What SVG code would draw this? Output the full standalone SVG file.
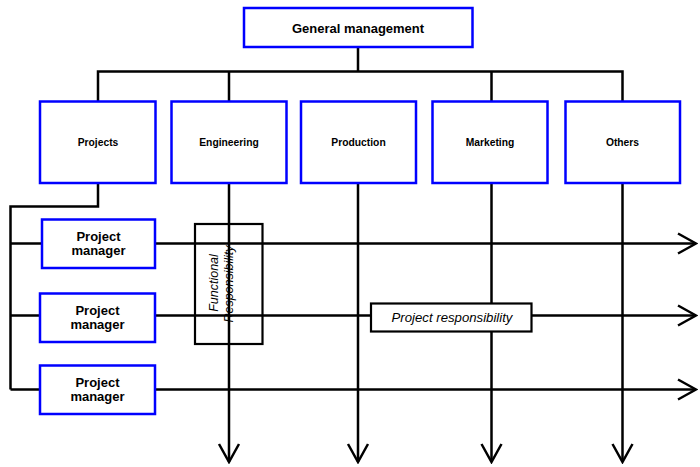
<svg xmlns="http://www.w3.org/2000/svg" width="700" height="467" viewBox="0 0 700 467">
<defs>
<style>
.box{fill:#fff;stroke:#0000ff;stroke-width:2.5}
.ln{fill:none;stroke:#000;stroke-width:2.5}
.lbl{font-family:"Liberation Sans",Arial,sans-serif;font-weight:bold;fill:#000;text-anchor:middle}
.it{font-family:"Liberation Sans",Arial,sans-serif;font-style:italic;fill:#000;text-anchor:middle}
</style>
<marker id="ah" viewBox="-20 -12 22 24" markerWidth="22" markerHeight="24" refX="0" refY="0" markerUnits="userSpaceOnUse" orient="auto">
<path d="M-18,-10 L0,0 L-18,10" fill="none" stroke="#000" stroke-width="2.5"/>
</marker>
</defs>
<g id="connectors">
<path class="ln" d="M358,47 V71.5 M98,101 V71.5 H622.5 V101 M229,71.5 V101 M491.5,71.5 V101"/>
<path class="ln" d="M98,183 V206.5 H10.5 V389.5 M10.5,243.5 H42 M10.5,315.5 H40 M10.5,389.5 H40"/>
<line class="ln" x1="229" y1="183" x2="229" y2="462" marker-end="url(#ah)"/>
<line class="ln" x1="358" y1="183" x2="358" y2="462" marker-end="url(#ah)"/>
<line class="ln" x1="491.5" y1="183" x2="491.5" y2="462" marker-end="url(#ah)"/>
<line class="ln" x1="622.5" y1="183" x2="622.5" y2="462" marker-end="url(#ah)"/>
<line class="ln" x1="155" y1="243.5" x2="696" y2="243.5" marker-end="url(#ah)"/>
<line class="ln" x1="155" y1="315.5" x2="696" y2="315.5" marker-end="url(#ah)"/>
<line class="ln" x1="155" y1="389.5" x2="696" y2="389.5" marker-end="url(#ah)"/>
</g>
<g id="general-management">
<rect class="box" x="244" y="8" width="228.5" height="39"/>
<text class="lbl" x="358" y="32.5" font-size="13">General management</text>
</g>
<g id="projects">
<rect class="box" x="40" y="101.5" width="115.5" height="81.5"/>
<text class="lbl" x="98" y="145.5" font-size="10.3">Projects</text>
</g>
<g id="engineering">
<rect class="box" x="171.5" y="101.5" width="115" height="81.5"/>
<text class="lbl" x="229" y="145.5" font-size="10.3">Engineering</text>
</g>
<g id="production">
<rect class="box" x="301" y="101.5" width="115" height="81.5"/>
<text class="lbl" x="358.5" y="145.5" font-size="10.3">Production</text>
</g>
<g id="marketing">
<rect class="box" x="432.5" y="101.5" width="115" height="81.5"/>
<text class="lbl" x="490" y="145.5" font-size="10.3">Marketing</text>
</g>
<g id="others">
<rect class="box" x="565.5" y="101.5" width="114.5" height="81.5"/>
<text class="lbl" x="622.5" y="145.5" font-size="10.3">Others</text>
</g>
<g id="pm1">
<rect class="box" x="42" y="219.5" width="113" height="48.5"/>
<text class="lbl" x="98.5" y="241" font-size="13">Project</text>
<text class="lbl" x="98.5" y="255" font-size="13">manager</text>
</g>
<g id="pm2">
<rect class="box" x="40" y="293.5" width="115" height="48.5"/>
<text class="lbl" x="97.5" y="315" font-size="13">Project</text>
<text class="lbl" x="97.5" y="329" font-size="13">manager</text>
</g>
<g id="pm3">
<rect class="box" x="40" y="365.5" width="115" height="48.5"/>
<text class="lbl" x="97.5" y="387" font-size="13">Project</text>
<text class="lbl" x="97.5" y="401" font-size="13">manager</text>
</g>
<g id="functional-responsibility">
<rect x="195" y="224" width="67.5" height="120" fill="none" stroke="#000" stroke-width="2.2"/>
<text class="it" font-size="12.5" transform="translate(218,283) rotate(-90)">Functional</text>
<text class="it" font-size="12.5" transform="translate(232.5,284) rotate(-90)">Responsibility</text>
</g>
<g id="project-responsibility">
<rect x="371" y="303.5" width="160.5" height="28" fill="#fff" stroke="#000" stroke-width="2.2"/>
<text class="it" font-size="13.2" x="452" y="321.5">Project responsibility</text>
</g>
</svg>
